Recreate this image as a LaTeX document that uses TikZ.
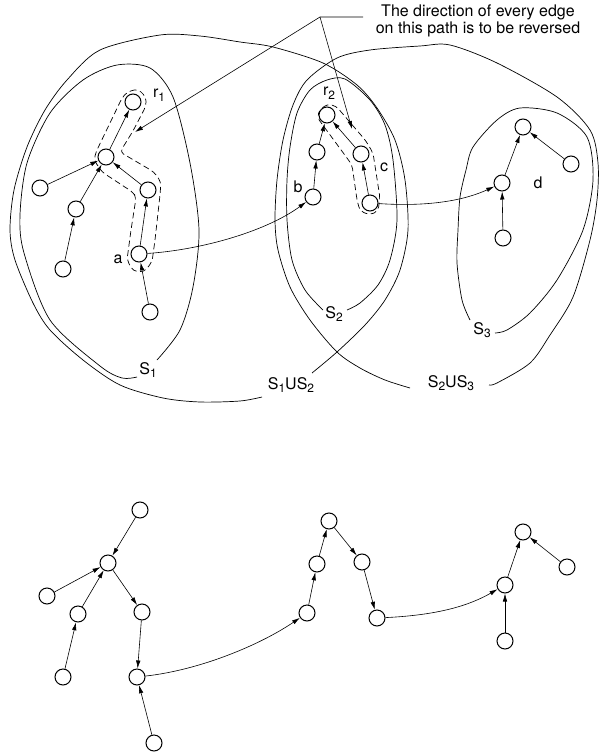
\documentclass[tikz,border=0pt]{standalone}
\usepackage{fontspec}
\setmainfont{TeX Gyre Heros}
\usetikzlibrary{arrows.meta}
\newcommand{\lowsub}[1]{\raisebox{-0.45ex}{\fontsize{12}{14}\selectfont #1}}

\begin{document}
\begin{tikzpicture}[x=1pt,y=-1pt,>={Latex[length=8pt,width=4.5pt]},
		semithick,main node/.style = {circle,draw,line width=1pt,inner sep=0pt,minimum size=16pt},
		blob/.style = {line width=0.7pt},
		path box/.style = {line width=0.7pt,dash pattern=on 6pt off 3.5pt,rounded corners=4pt},
		lbl/.style = {font=\fontsize{16}{17}\selectfont,inner sep=1pt}]
		\useasboundingbox (0,0) rectangle (600,754);
		
		% sets before contraction
		\draw[blob] plot[smooth] coordinates {(137,377) (122,378) (100,366) (50,320) (24,253) (20,215) (27,163) (50,113) (83,80) (117,65) (150,68) (173,97) (190,163) (199,230) (193,287) (180,330) (157,360)};
		\draw[blob] plot[smooth] coordinates {(262,397) (240,401) (200,402) (163,398) (120,385) (83,360) (50,330) (33,303) (15,260) (10,230) (14,190) (27,147) (45,110) (67,80) (100,50) (160,35) (200,36) (240,42) (273,47) (323,63) (357,85) (377,108) (395,140) (405,180) (408,230) (400,270) (385,300) (365,325) (337,352) (312,373)};
		\draw[blob] plot[smooth] coordinates {(410,388) (385,380) (360,368) (337,352) (310,320) (290,287) (278,250) (275,220) (277,180) (283,140) (293,105) (307,80) (337,58) (370,50) (420,46) (450,45) (497,63) (557,97) (590,130) (598,163) (597,200) (590,240) (573,297) (550,335) (530,363) (497,383) (489,385)};
		\draw[blob] plot[smooth] coordinates {(323,310) (305,290) (292,260) (287,220) (287,180) (290,147) (297,113) (310,90) (327,80) (345,79) (370,100) (385,125) (393,160) (397,220) (390,260) (378,285) (360,303) (347,310)};
		\draw[blob] plot[smooth] coordinates {(470,320) (462,300) (457,263) (458,230) (460,197) (466,170) (473,147) (497,120) (520,108) (557,113) (587,137) (593,180) (583,230) (557,280) (530,313) (507,330) (495,333)};
		
		\node[lbl] (s1) at (148,370) {S\lowsub{1}};
		\node[lbl] (s2) at (334,314) {S\lowsub{2}};
		\node[lbl] (s3) at (482,330) {S\lowsub{3}};
		\node[lbl] (s12) at (291,385) {S\lowsub{1}US\lowsub{2}};
		\node[lbl] (s23) at (451,383) {S\lowsub{2}US\lowsub{3}};
		
		% paths to be reversed
		\draw[path box] (127,92) -- (138,89) -- (146,97) -- (146,106) -- (133,131) -- (120,152) -- (154,172) -- (161,182) -- (160,195) -- (155,240) -- (152,262) -- (144,272) -- (133,271) -- (127,260) -- (131,230) -- (136,198) -- (134,193) -- (102,172) -- (94,160) -- (96,152) -- (122,98) -- cycle;
		\draw[path box] (320,110) -- (327,104) -- (336,106) -- (366,141) -- (373,153) -- (380,198) -- (378,211) -- (370,215) -- (360,211) -- (357,200) -- (352,165) -- (347,158) -- (322,124) -- (317,117) -- cycle;
		
		% top: the forest
		\node[main node] (1) at (133,102) {};
		\node[main node] (2) at (106,157) {};
		\node[main node] (3) at (40,188) {};
		\node[main node] (4) at (76,209) {};
		\node[main node] (5) at (63,269) {};
		\node[main node] (6) at (148,190) {};
		\node[main node] (7) at (139,254) {};
		\node[main node] (8) at (150,312) {};
		\node[main node] (9) at (313,197) {};
		\node[main node] (10) at (317,152) {};
		\node[main node] (11) at (327,115) {};
		\node[main node] (12) at (361,154) {};
		\node[main node] (13) at (370,203) {};
		\node[main node] (14) at (502,183) {};
		\node[main node] (15) at (523,127) {};
		\node[main node] (16) at (571,164) {};
		\node[main node] (17) at (503,238) {};
		
		\node[lbl] at (159,95) {r\lowsub{1}};
		\node[lbl] at (329,93) {r\lowsub{2}};
		\node[lbl] at (118,259) {a};
		\node[lbl] at (298,187) {b};
		\node[lbl] at (384,167) {c};
		\node[lbl] at (538,183) {d};
		
		\path[->]
		(2) edge (1)
		(3) edge (2)
		(4) edge (2)
		(5) edge (4)
		(6) edge (2)
		(7) edge (6)
		(8) edge (7)
		(9) edge (10)
		(10) edge (11)
		(12) edge (11)
		(13) edge (12)
		(14) edge (15)
		(16) edge (15)
		(17) edge (14);
		\draw[->] (7) .. controls (200,250) and (265,232) .. (9);
		\draw[->] (13) .. controls (430,207) and (465,200) .. (14);
		
		% note
		\node[lbl,align=center] (note) at (478,21) {The direction of every edge\\on this path is to be reversed};
		\coordinate (k0) at (363,17);
		\coordinate (k) at (320,17);
		\coordinate (t1) at (135,132);
		\coordinate (t2) at (352,129);
		\draw[->] (k0) -- (k) -- (t1);
		\draw[->] (k) -- (t2);
		
		% bottom: after reversal
		\node[main node] (21) at (140,510) {};
		\node[main node] (22) at (108,563) {};
		\node[main node] (23) at (47,596) {};
		\node[main node] (24) at (78,614) {};
		\node[main node] (25) at (63,677) {};
		\node[main node] (26) at (142,612) {};
		\node[main node] (27) at (137,677) {};
		\node[main node] (28) at (154,743) {};
		\node[main node] (29) at (307,613) {};
		\node[main node] (30) at (317,564) {};
		\node[main node] (31) at (329,521) {};
		\node[main node] (32) at (362,562) {};
		\node[main node] (33) at (377,618) {};
		\node[main node] (34) at (505,585) {};
		\node[main node] (35) at (523,532) {};
		\node[main node] (36) at (567,567) {};
		\node[main node] (37) at (505,641) {};
		
		\path[->]
		(21) edge (22)
		(23) edge (22)
		(24) edge (22)
		(25) edge (24)
		(22) edge (26)
		(26) edge (27)
		(28) edge (27)
		(29) edge (30)
		(30) edge (31)
		(31) edge (32)
		(32) edge (33)
		(34) edge (35)
		(36) edge (35)
		(37) edge (34);
		\draw[->] (27) .. controls (200,670) and (260,645) .. (29);
		\draw[->] (33) .. controls (440,615) and (470,605) .. (34);
\end{tikzpicture}
\end{document}
